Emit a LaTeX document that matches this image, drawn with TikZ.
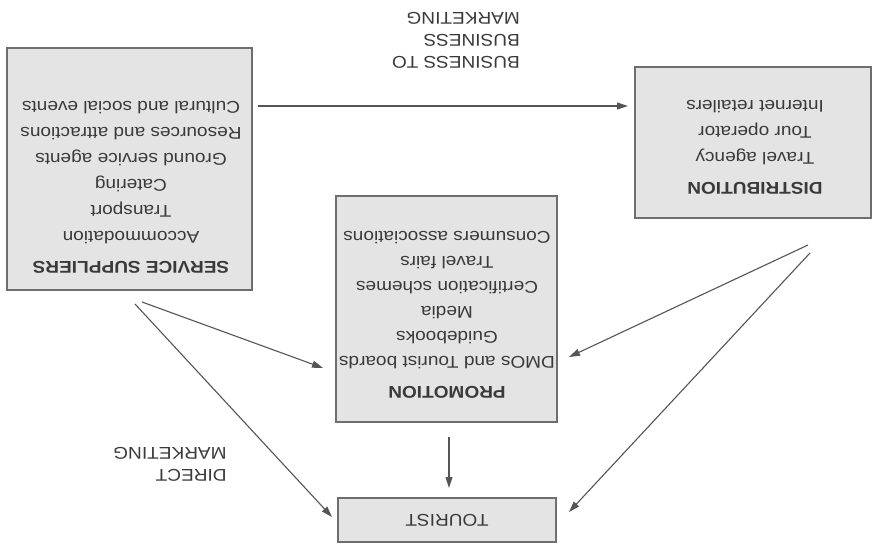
\documentclass[tikz,border=0pt]{standalone}
\usepackage{fontspec}
\setmainfont{Liberation Sans}[FakeStretch=1.12]
\usetikzlibrary{arrows.meta}
\definecolor{boxfill}{HTML}{E4E4E4}
\definecolor{boxline}{HTML}{6E6E6E}
\definecolor{ink}{HTML}{3A3A3A}
\definecolor{arrowc}{HTML}{555555}
\begin{document}
\begin{tikzpicture}[x=1pt,y=-1pt,
  boxnode/.style={draw=boxline, fill=boxfill, line width=1.4pt, inner sep=0pt},
  txt/.style={rotate=180, text=ink, align=center, font=\fontsize{17}{26}\selectfont, inner sep=0pt},
  lbl/.style={rotate=180, text=ink, align=left, font=\fontsize{17}{22}\selectfont, inner sep=0pt},
  arr/.style={draw=arrowc, line width=1.1pt, -{Triangle[length=11pt,width=7pt]}}]
\useasboundingbox[fill=white] (0,0) rectangle (872,545);
% boxes
\node[boxnode, minimum width=245pt, minimum height=242pt] (ss) at (129.5,169) {};
\node[boxnode, minimum width=221pt, minimum height=226pt] (pr) at (446.5,309) {};
\node[boxnode, minimum width=236pt, minimum height=151pt] (di) at (753,142.5) {};
\node[boxnode, minimum width=218pt, minimum height=44pt] (to) at (447,520) {};
% texts
\node[txt] (sst) at (131,187) {\textbf{SERVICE SUPPLIERS}\\[4pt]Accommodation\\Transport\\Catering\\Ground service agents\\Resources and attractions\\Cultural and social events};
\node[txt, font=\fontsize{17}{25}\selectfont] (prt) at (447,315) {\textbf{PROMOTION}\\[5pt]DMOs and Tourist boards\\Guidebooks\\Media\\Certification schemes\\Travel fairs\\Consumers associations};
\node[txt] (dit) at (755,147) {\textbf{DISTRIBUTION}\\[4pt]Travel agency\\Tour operator\\Internet retailers};
\node[txt] (tot) at (447,520) {TOURIST};
\node[lbl] (b2b) at (456,40) {BUSINESS TO\\BUSINESS\\MARKETING};
\node[lbl] (dm) at (170,464) {DIRECT\\MARKETING};
% connector ends
\coordinate (h1) at (258,106); \coordinate (h2) at (628,106);
\coordinate (sp1) at (142,302); \coordinate (sp2) at (323,368);
\coordinate (st1) at (135,304); \coordinate (st2) at (332,517);
\coordinate (pt1) at (449,437); \coordinate (pt2) at (449,488);
\coordinate (dp1) at (808,245); \coordinate (dp2) at (569,357);
\coordinate (dt1) at (810,253); \coordinate (dt2) at (569,512);
\draw[arr] (h1) -- (h2);
\draw[arr] (sp1) -- (sp2);
\draw[arr] (st1) -- (st2);
\draw[arr] (pt1) -- (pt2);
\draw[arr] (dp1) -- (dp2);
\draw[arr] (dt1) -- (dt2);
\end{tikzpicture}
\end{document}
